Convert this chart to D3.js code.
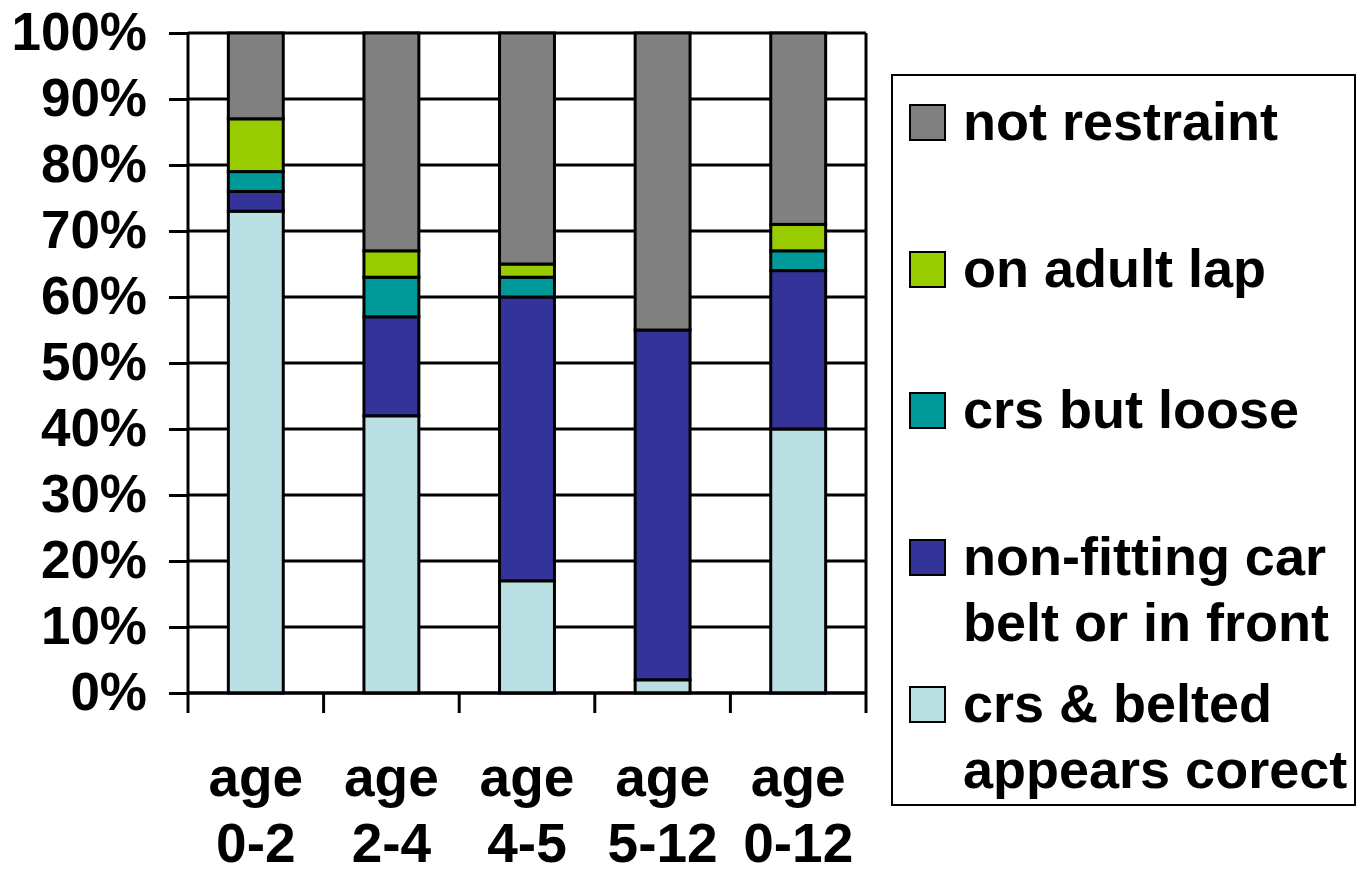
<!DOCTYPE html>
<html>
<head>
<meta charset="utf-8">
<script src="https://cdn.jsdelivr.net/npm/d3@7"></script>
<style>
  html, body { margin: 0; padding: 0; background: #fff; }
  svg { display: block; }
  text { font-family: "Liberation Sans", Arial, sans-serif; font-weight: bold; fill: #000; }
</style>
</head>
<body>
<svg id="chart" width="1363" height="873"></svg>
<script>
// ---- data ----
const categories = ["age 0-2", "age 2-4", "age 4-5", "age 5-12", "age 0-12"];
const categoryLines = [["age", "0-2"], ["age", "2-4"], ["age", "4-5"], ["age", "5-12"], ["age", "0-12"]];
const seriesNames = ["crs & belted appears corect", "non-fitting car belt or in front", "crs but loose", "on adult lap", "not restraint"];
const belted   = [73, 42, 17, 2, 40];
const nonFit   = [3, 15, 43, 53, 24];
const loose    = [3, 6, 3, 0, 3];
const lap      = [8, 4, 2, 0, 4];
const notRestr = [13, 33, 35, 45, 29];
const yTicks = [0, 10, 20, 30, 40, 50, 60, 70, 80, 90, 100];
const legendLines = [
  ["not restraint"],
  ["on adult lap"],
  ["crs but loose"],
  ["non-fitting car", "belt or in front"],
  ["crs & belted", "appears corect"]
];
const legendSeries = ["not restraint", "on adult lap", "crs but loose", "non-fitting car belt or in front", "crs & belted appears corect"];
const colors = {
  "crs & belted appears corect": "#BBE0E3",
  "non-fitting car belt or in front": "#333399",
  "crs but loose": "#009999",
  "on adult lap": "#99CC00",
  "not restraint": "#808080"
};

// ---- build table ----
const seriesValues = [belted, nonFit, loose, lap, notRestr];
const table = categories.map((c, i) => {
  const row = { cat: c };
  seriesNames.forEach((s, j) => row[s] = seriesValues[j][i]);
  return row;
});
const stacked = d3.stack().keys(seriesNames)(table);

// ---- layout ----
const svg = d3.select("#chart");
const plot = { left: 188, right: 866, top: 33, bottom: 693 };
const LW = 3;

const x = d3.scaleBand().domain(categories).range([plot.left, plot.right]).paddingInner(0.595).paddingOuter(0.2975);
const xOuter = d3.scaleBand().domain(categories).range([plot.left, plot.right]).padding(0);
const y = d3.scaleLinear().domain([0, 100]).range([plot.bottom, plot.top]);

// gridlines
svg.append("g").selectAll("line").data(yTicks).join("line")
  .attr("x1", plot.left).attr("x2", plot.right)
  .attr("y1", d => y(d)).attr("y2", d => y(d))
  .attr("stroke", "#000").attr("stroke-width", LW);

// right frame
svg.append("line")
  .attr("x1", plot.right).attr("x2", plot.right)
  .attr("y1", plot.top).attr("y2", plot.bottom)
  .attr("stroke", "#000").attr("stroke-width", LW);

// bars
svg.append("g").selectAll("g").data(stacked).join("g")
  .attr("fill", d => colors[d.key])
  .selectAll("rect").data(d => d.filter(p => p[1] - p[0] > 0)).join("rect")
  .attr("x", d => x(d.data.cat))
  .attr("width", x.bandwidth())
  .attr("y", d => y(d[1]))
  .attr("height", d => y(d[0]) - y(d[1]))
  .attr("stroke", "#000").attr("stroke-width", LW);

// y axis
const yAxis = svg.append("g")
  .attr("transform", `translate(${plot.left},0)`)
  .call(d3.axisLeft(y).tickValues(yTicks).tickSize(19).tickPadding(22).tickFormat(d => d + "%"));
yAxis.select(".domain").attr("stroke", "#000").attr("stroke-width", LW).attr("d", `M0,${plot.top}V${plot.bottom}`);
yAxis.selectAll(".tick line").attr("stroke", "#000").attr("stroke-width", LW);
yAxis.selectAll(".tick text")
  .style("font-family", "'Liberation Sans', Arial, sans-serif")
  .style("font-weight", "bold").style("font-size", "53px").attr("fill", "#000");

// x axis line and boundary ticks
svg.append("line")
  .attr("x1", plot.left).attr("x2", plot.right)
  .attr("y1", plot.bottom).attr("y2", plot.bottom)
  .attr("stroke", "#000").attr("stroke-width", LW);
const boundaries = categories.map(c => xOuter(c)).concat([plot.right]);
svg.append("g").selectAll("line").data(boundaries).join("line")
  .attr("x1", d => d).attr("x2", d => d)
  .attr("y1", plot.bottom).attr("y2", plot.bottom + 20)
  .attr("stroke", "#000").attr("stroke-width", LW);

// x labels
const xl = svg.append("g").selectAll("text").data(categories).join("text")
  .attr("text-anchor", "middle")
  .style("font-size", "55px");
xl.each(function(c, i) {
  const t = d3.select(this);
  categoryLines[i].forEach((ln, k) => {
    t.append("tspan")
      .attr("x", x(c) + x.bandwidth() / 2)
      .attr("y", 796 + k * 66)
      .text(ln);
  });
});

// legend
svg.append("rect")
  .attr("x", 892).attr("y", 75).attr("width", 463).attr("height", 730)
  .attr("fill", "#fff").attr("stroke", "#000").attr("stroke-width", 2);
const legendBaselines = [140, 287, 428, 575, 722];
const lg = svg.append("g").selectAll("g").data(legendSeries).join("g");
lg.append("rect")
  .attr("x", 910).attr("y", (d, i) => legendBaselines[i] - 35)
  .attr("width", 35).attr("height", 35)
  .attr("fill", d => colors[d]).attr("stroke", "#000").attr("stroke-width", 2);
lg.append("text")
  .style("font-size", "54px")
  .each(function(d, i) {
    const t = d3.select(this);
    legendLines[i].forEach((ln, k) => {
      t.append("tspan").attr("x", 963).attr("y", legendBaselines[i] + k * 66).text(ln);
    });
  });
</script>
</body>
</html>
